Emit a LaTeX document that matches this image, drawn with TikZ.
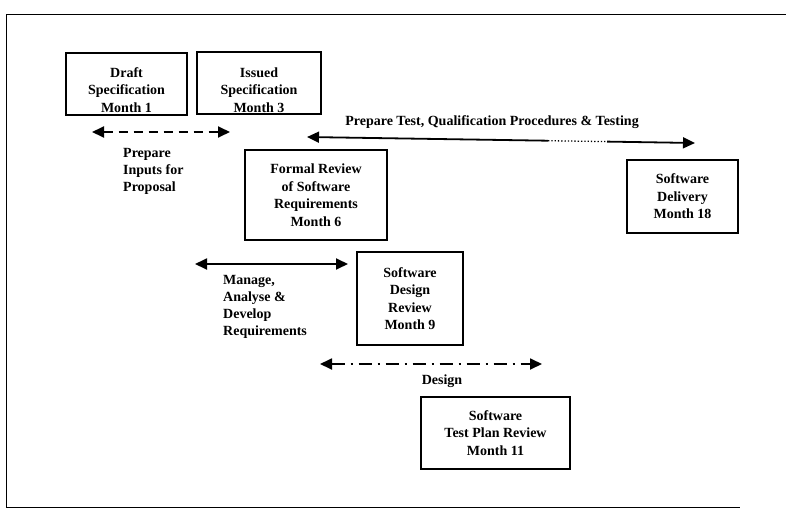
\documentclass[tikz,border=0pt]{standalone}
\usepackage{fontspec}
\setmainfont{Liberation Serif}
\usetikzlibrary{arrows.meta}
\tikzset{
  txt/.style={align=center, inner sep=0pt, font=\fontsize{14}{17.5}\selectfont\bfseries},
  milestone/.style={draw, line width=1.4pt, txt},
  lbl/.style={align=left, inner sep=0pt, font=\fontsize{14}{17}\selectfont\bfseries},
  tip/.style={-{Triangle[length=12pt,width=11pt]}},
  twotip/.style={{Triangle[length=12pt,width=11pt]}-{Triangle[length=12pt,width=11pt]}},
  phase/.style={line width=1.8pt},
}
\begin{document}
\begin{tikzpicture}[x=1pt,y=-1pt]
\useasboundingbox (0,0) rectangle (786,511);
% open outer frame
\draw[line width=0.9pt] (786,14) -- (6,14) -- (6,507) -- (740,507);

% milestones (the two specification boxes carry their text a little low)
\node[milestone, minimum width=121pt, minimum height=62pt] (draft) at (126.5,84) {};
\node[txt] (drafttxt) at (126.5,90) {Draft\\Specification\\Month 1};
\node[milestone, minimum width=124pt, minimum height=62pt] (issued) at (259,83) {};
\node[txt] (issuedtxt) at (259,90) {Issued\\Specification\\Month 3};
\node[milestone, minimum width=142pt, minimum height=90pt] (formal) at (316,195)
  {Formal Review\\of Software\\Requirements\\Month 6};
\node[milestone, minimum width=111pt, minimum height=73pt] (delivery) at (682.5,196.5)
  {Software\\Delivery\\Month 18};
\node[milestone, minimum width=106pt, minimum height=93pt] (sdr) at (410,298.5)
  {Software\\Design\\Review\\Month 9};
\node[milestone, minimum width=149pt, minimum height=72pt] (tpr) at (495.5,433)
  {Software\\Test Plan Review\\Month 11};

% phase end points
\coordinate (pA) at (92,132);   \coordinate (pB) at (230,132);
\coordinate (tA) at (307,137);  \coordinate (t1) at (548,140.7);
\coordinate (t2) at (607,141.6); \coordinate (tB) at (695,143);
\coordinate (mA) at (195,264);  \coordinate (mB) at (348,264);
\coordinate (dA) at (320,364);  \coordinate (dB) at (542,364);

% phases
\draw[phase, twotip, dash pattern=on 9pt off 6pt] (pA) -- (pB);
\draw[phase, tip] (t1) -- (tA);
\draw[line width=1.3pt, dotted] (t1) -- (t2);
\draw[phase, tip] (t2) -- (tB);
\draw[phase, twotip] (mA) -- (mB);
\draw[phase, twotip, dash pattern=on 13pt off 6pt on 2pt off 6pt] (dA) -- (dB);

% phase labels
\node[lbl, anchor=west] (lprep) at (123,171) {Prepare\\Inputs for\\Proposal};
\node[lbl] (ltest) at (492,122) {Prepare Test, Qualification Procedures \& Testing};
\node[lbl, anchor=west] (lman) at (223,307) {Manage,\\Analyse \&\\Develop\\Requirements};
\node[lbl] (ldes) at (442,381) {Design};
\end{tikzpicture}
\end{document}
